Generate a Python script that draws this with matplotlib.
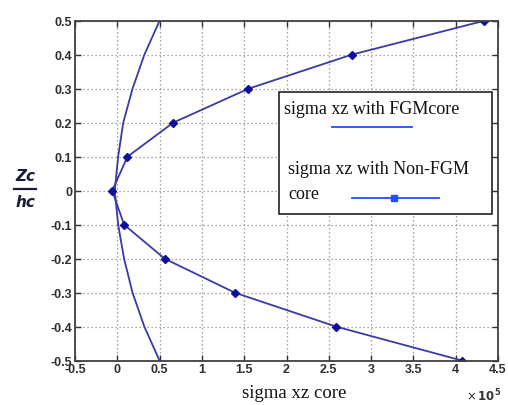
import matplotlib
matplotlib.use("Agg")
import matplotlib.pyplot as plt
from matplotlib.lines import Line2D
from matplotlib.patches import Rectangle

# Normalised core coordinate Zc/hc
z = [0.5, 0.4, 0.3, 0.2, 0.1, 0.0, -0.1, -0.2, -0.3, -0.4, -0.5]
# Transverse shear stress in the core (x 1e5)
sigma_fgm = [0.5, 0.32, 0.18, 0.07, 0.01, -0.03, 0.01, 0.08, 0.18, 0.32, 0.5]
sigma_nonfgm = [4.34, 2.77, 1.55, 0.66, 0.12, -0.06, 0.08, 0.56, 1.39, 2.59, 4.08]

x_ticks = [-0.5, 0, 0.5, 1, 1.5, 2, 2.5, 3, 3.5, 4, 4.5]
x_ticklabels = ["-0.5", "0", "0.5", "1", "1.5", "2", "2.5", "3", "3.5", "4", "4.5"]
y_ticks = [-0.5, -0.4, -0.3, -0.2, -0.1, 0, 0.1, 0.2, 0.3, 0.4, 0.5]
y_ticklabels = ["-0.5", "-0.4", "-0.3", "-0.2", "-0.1", "0", "0.1", "0.2", "0.3", "0.4", "0.5"]

label_fgm = "sigma xz with FGMcore"
label_nonfgm = "sigma xz with Non-FGM\ncore"

W, H = 508, 406
fig = plt.figure(figsize=(W / 100, H / 100), dpi=100)
fig.patch.set_facecolor("white")

ax = fig.add_axes([75 / W, 1 - 361.7 / H, 423 / W, 340 / H])

line_col = "#3a3aa6"
ax.plot(sigma_fgm, z, color=line_col, lw=1.3)
ax.plot(sigma_nonfgm, z, color=line_col, lw=1.3, marker="D", ms=4,
        mfc="#1010a0", mec="#1010a0")

ax.set_xlim(-0.5, 4.5)
ax.set_ylim(-0.5, 0.5)
ax.set_xticks(x_ticks)
ax.set_xticklabels(x_ticklabels)
ax.set_yticks(y_ticks)
ax.set_yticklabels(y_ticklabels)

ax.grid(True, linestyle=(0, (1, 2.2)), color="#8c8c7c", lw=0.9)
ax.tick_params(direction="in", length=4, width=1, color="#333333",
               top=True, right=True, labelsize=9, labelcolor="#2e2e2e", pad=2)
for lab in ax.get_xticklabels() + ax.get_yticklabels():
    lab.set_family("Liberation Sans")
    lab.set_fontweight("bold")
for sp in ax.spines.values():
    sp.set_color("#404040")
    sp.set_linewidth(1.3)

# Axis titles
fig.text(294 / W, 1 - 394 / H, "sigma xz core", ha="center", va="center",
         family="Liberation Serif", fontsize=13.5, color="#111111")
fig.text(484 / W, 1 - 396 / H, r"$\times\,\mathbf{10}^{\mathbf{5}}$", ha="center", va="center",
         fontsize=8.5, color="#333333")

# Zc / hc label drawn as a stacked fraction
fig.text(25 / W, 1 - 177 / H, "Zc", ha="center", va="center",
         family="DejaVu Sans", fontsize=11, fontweight="bold", style="italic",
         color="#1a1a3a")
fig.add_artist(Line2D([14 / W, 36 / W], [1 - 190 / H, 1 - 190 / H],
                      color="#1a1a3a", lw=1.6, transform=fig.transFigure))
fig.text(25 / W, 1 - 203 / H, "hc", ha="center", va="center",
         family="DejaVu Sans", fontsize=11, fontweight="bold", style="italic",
         color="#1a1a3a")

# Legend panel
fig.add_artist(Rectangle((279 / W, 1 - 215 / H), (492 - 279) / W, (215 - 93) / H,
                         transform=fig.transFigure, facecolor="white",
                         edgecolor="#222222", lw=1.2, zorder=5))
fig.text(284 / W, 1 - 110 / H, label_fgm, ha="left", va="center",
         family="Liberation Serif", fontsize=13, color="#111111", zorder=6)
fig.add_artist(Line2D([332 / W, 412 / W], [1 - 128 / H, 1 - 128 / H],
                      color="#1f4fff", lw=1.3, transform=fig.transFigure, zorder=6))
fig.text(288 / W, 1 - 170 / H, "sigma xz with Non-FGM", ha="left", va="center",
         family="Liberation Serif", fontsize=13, color="#111111", zorder=6)
fig.text(288 / W, 1 - 195 / H, "core", ha="left", va="center",
         family="Liberation Serif", fontsize=13, color="#111111", zorder=6)
fig.add_artist(Line2D([352 / W, 439 / W], [1 - 199 / H, 1 - 199 / H],
                      color="#1f4fff", lw=1.3, transform=fig.transFigure, zorder=6))
fig.add_artist(Line2D([394 / W], [1 - 199 / H], color="#1f4fff", marker="s", ms=5,
                      lw=0, transform=fig.transFigure, zorder=7))

fig.savefig("out.png", dpi=100)
